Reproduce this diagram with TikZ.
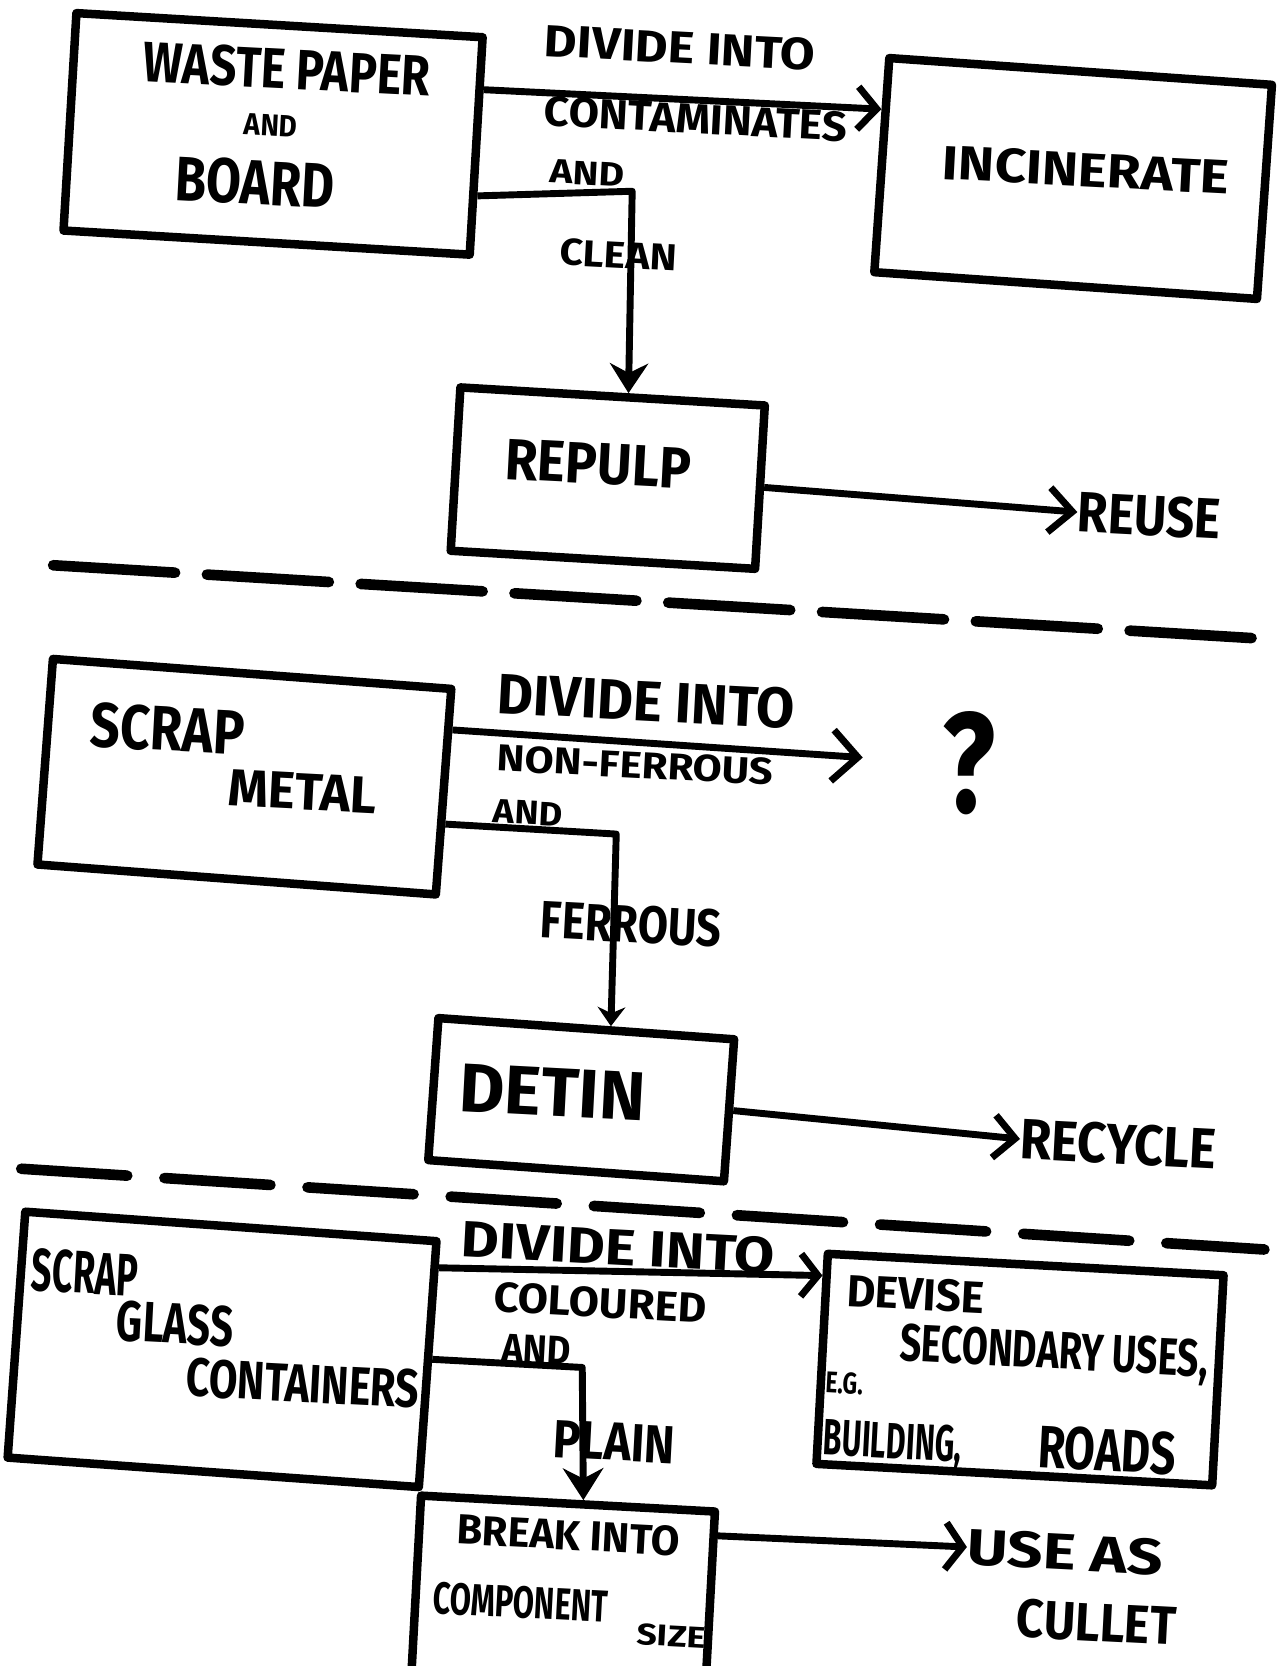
\documentclass[tikz,border=0pt]{standalone}
\usepackage{fontspec}
\setmainfont{Fira Sans}
\usetikzlibrary{arrows.meta,calc}
\newcommand\hw[3]{\resizebox{#1pt}{#2pt}{\bfseries #3}}
\tikzset{
  box/.style={draw, line width=8pt, inner sep=0pt, line join=round},
  lbl/.style={inner sep=0pt, rotate=-3},
  conn/.style={line width=6.5pt, line join=round},
  dashline/.style={line width=10pt, line cap=round}
}
\begin{document}
\begin{tikzpicture}[x=1pt,y=-1pt]
\useasboundingbox (0,0) rectangle (1202,1568);
\fill[white] (0,0) rectangle (1202,1568);
\clip (0,0) rectangle (1202,1568);

% ---------- Paper section ----------
\node[box, minimum width=383pt, minimum height=205pt, rotate=-3.4] (b1) at (257,126) {};
\node[box, minimum width=361pt, minimum height=202pt, rotate=-4] (inc) at (1010,168) {};
\node[box, minimum width=287pt, minimum height=154pt, rotate=-3.4] (rp) at (572,450) {};

\node[lbl] (t1a) at (270,65) {\hw{270}{38}{WASTE PAPER}};
\node[lbl] (t1b) at (255,118) {\hw{50}{20}{AND}};
\node[lbl] (t1c) at (240,172) {\hw{150}{42}{BOARD}};
\node[lbl] (tinc) at (1022,160) {\hw{270}{32}{INCINERATE}};
\node[lbl] (d1a) at (640,45) {\hw{255}{30}{DIVIDE INTO}};
\node[lbl] (d1b) at (655,112) {\hw{285}{28}{CONTAMINATES}};
\node[lbl] (d1c) at (553,163) {\hw{70}{22}{AND}};
\node[lbl] (d1d) at (582,240) {\hw{110}{25}{CLEAN}};
\node[lbl] (trp) at (563,437) {\hw{175}{38}{REPULP}};
\node[lbl, anchor=west] (reuse) at (1014,482) {\hw{135}{38}{REUSE}};

\coordinate (k1) at (595,180);
\draw[conn, -{Straight Barb[length=18pt,width=40pt]}]
  ($(b1.north east)!0.25!(b1.south east)$) -- ($(inc.north west)!0.25!(inc.south west)$);
\draw[conn, -{Stealth[length=28pt,width=36pt]}]
  ($(b1.north east)!0.72!(b1.south east)$) -- (k1) -- ($(rp.north west)!0.55!(rp.north east)$);
\draw[conn, -{Straight Barb[length=22pt,width=42pt]}] (rp.east) -- (reuse.west);

\draw[dashline, dash pattern=on 115pt off 30pt] (50,532) -- (1202,602);

% ---------- Metal section ----------
\node[box, minimum width=376pt, minimum height=194pt, rotate=-4.3] (mt) at (230,731) {};
\node[box, minimum width=279pt, minimum height=134pt, rotate=-4.1] (dt) at (547,1035) {};

\node[lbl] (t2a) at (158,686) {\hw{145}{42}{SCRAP}};
\node[lbl] (t2b) at (285,745) {\hw{140}{34}{METAL}};
\node[lbl] (d2a) at (608,660) {\hw{280}{38}{DIVIDE INTO}};
\node[lbl] (d2b) at (598,720) {\hw{260}{25}{NON-FERROUS}};
\node[lbl] (d2c) at (497,765) {\hw{65}{22}{AND}};
\node[lbl] (d2d) at (594,870) {\hw{170}{35}{FERROUS}};
\node[inner sep=0pt] (q) at (912,718) {\hw{50}{95}{?}};
\node[lbl] (tdt) at (520,1028) {\hw{175}{45}{DETIN}};
\node[lbl, anchor=west] (recyc) at (960,1072) {\hw{185}{38}{RECYCLE}};

\coordinate (qa) at (812,713);
\coordinate (k2) at (580,785);
\draw[conn, -{Straight Barb[length=24pt,width=48pt]}]
  ($(mt.north east)!0.21!(mt.south east)$) -- (qa);
\draw[conn, -{Stealth[length=18pt,width=26pt]}]
  ($(mt.north east)!0.65!(mt.south east)$) -- (k2) -- ($(dt.north west)!0.58!(dt.north east)$);
\draw[conn, -{Straight Barb[length=20pt,width=40pt]}] (dt.east) -- (recyc.west);

\draw[dashline, dash pattern=on 100pt off 35pt] (20,1100) -- (1190,1176);

% ---------- Glass section ----------
\node[box, minimum width=388pt, minimum height=232pt, rotate=-4.1] (gl) at (209,1270) {};
\node[box, minimum width=373pt, minimum height=198pt, rotate=-3.1] (dv) at (960,1289) {};
\node[box, minimum width=277pt, minimum height=170pt, rotate=-3.1] (br) at (530,1500) {};

\node[lbl] (t3a) at (80,1198) {\hw{100}{40}{SCRAP}};
\node[lbl] (t3b) at (165,1246) {\hw{110}{38}{GLASS}};
\node[lbl] (t3c) at (285,1302) {\hw{220}{36}{CONTAINERS}};
\node[lbl] (d3a) at (582,1174) {\hw{295}{34}{DIVIDE INTO}};
\node[lbl] (d3b) at (565,1226) {\hw{200}{28}{COLOURED}};
\node[lbl] (d3c) at (505,1270) {\hw{65}{26}{AND}};
\node[lbl] (d3d) at (578,1357) {\hw{115}{35}{PLAIN}};
\node[lbl] (tdv1) at (862,1218) {\hw{130}{30}{DEVISE}};
\node[lbl] (tdv2) at (992,1275) {\hw{290}{35}{SECONDARY USES,}};
\node[lbl] (tdv3) at (795,1302) {\hw{35}{20}{E.G.}};
\node[lbl] (tdv4) at (840,1360) {\hw{130}{34}{BUILDING,}};
\node[lbl] (tdv5) at (1042,1365) {\hw{130}{40}{ROADS}};
\node[lbl] (tbr1) at (535,1445) {\hw{210}{28}{BREAK INTO}};
\node[lbl] (tbr2) at (490,1508) {\hw{165}{30}{COMPONENT}};
\node[lbl] (tbr3) at (632,1540) {\hw{65}{20}{SIZE}};
\node[lbl, anchor=west] (useas) at (910,1456) {\hw{185}{34}{USE AS}};
\node[lbl] (cullet) at (1032,1527) {\hw{150}{36}{CULLET}};

\coordinate (k3) at (548,1287);
\draw[conn, -{Straight Barb[length=16pt,width=40pt]}]
  ($(gl.north east)!0.12!(gl.south east)$) -- ($(dv.north west)!0.12!(dv.south west)$);
\draw[conn, -{Stealth[length=30pt,width=38pt]}]
  ($(gl.north east)!0.48!(gl.south east)$) -- (k3) -- ($(br.north west)!0.55!(br.north east)$);
\draw[conn, -{Straight Barb[length=16pt,width=44pt]}]
  ($(br.north east)!0.15!(br.south east)$) -- (useas.west);
\end{tikzpicture}
\end{document}
